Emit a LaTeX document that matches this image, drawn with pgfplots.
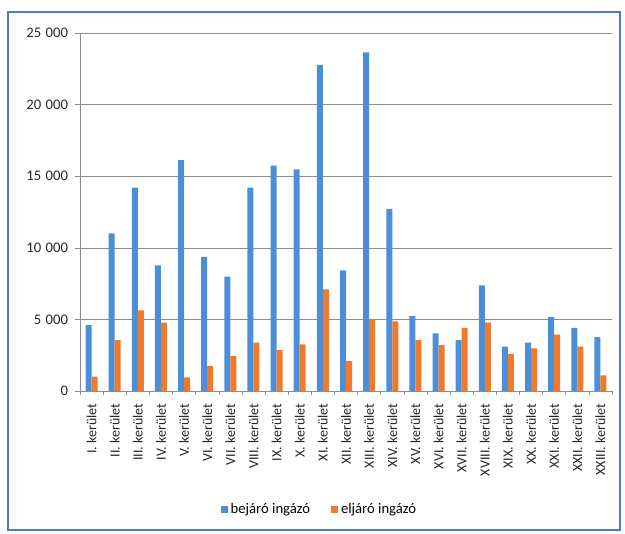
\documentclass[border=0pt]{standalone}
\usepackage{fontspec}
\setmainfont{Carlito}
\usepackage{pgfplots}
\pgfplotsset{compat=1.18}
\usepackage{pgfplotstable}

\definecolor{bejaro}{HTML}{4A8FD8}
\definecolor{eljaro}{HTML}{F07A2C}
\definecolor{gridgray}{HTML}{8C8C8C}
\definecolor{framec}{HTML}{4F79C8}

% kerület, bejáró ingázó, eljáró ingázó
\pgfplotstableread{
x bej elj
0 4600 1000
1 11000 3550
2 14200 5630
3 8770 4770
4 16120 950
5 9370 1740
6 7980 2440
7 14200 3370
8 15740 2860
9 15470 3260
10 22770 7090
11 8420 2090
12 23650 5000
13 12720 4860
14 5230 3560
15 4020 3210
16 3560 4400
17 7370 4770
18 3090 2600
19 3370 2980
20 5160 3930
21 4400 3090
22 3770 1090
}\ingazok

\begin{document}
\begin{tikzpicture}
\path[use as bounding box] (-60pt,-107.25pt) rectangle (408.75pt,293.25pt);
\draw[framec, line width=1.3pt] (-54pt,-104.25pt) rectangle (405pt,284.25pt);
\begin{axis}[
    at={(0,0)}, anchor=south west,
    scale only axis,
    width=399pt, height=268.5pt,
    ybar=0pt, bar width=4.5pt,
    xmin=-0.5, xmax=22.5,
    ymin=0, ymax=25000,
    xtick={0,...,22},
    xticklabels={I. kerület,II. kerület,III. kerület,IV. kerület,V. kerület,VI. kerület,VII. kerület,VIII. kerület,IX. kerület,X. kerület,XI. kerület,XII. kerület,XIII. kerület,XIV. kerület,XV. kerület,XVI. kerület,XVII. kerület,XVIII. kerület,XIX. kerület,XX. kerület,XXI. kerület,XXII. kerület,XXIII. kerület},
    minor xtick={-0.5,0.5,...,22.5},
    major x tick style={draw=none},
    minor tick length=3pt,
    ytick={0,5000,10000,15000,20000,25000},
    major tick length=3.5pt,
    tick align=outside,
    tick style={gridgray, thin},
    scaled y ticks=false,
    /pgf/number format/assume math mode=true,
    /pgf/number format/1000 sep={\hspace{0.3em}},
    ymajorgrids=true,
    grid style={gridgray, thin},
    axis x line*=bottom, axis y line*=left,
    axis line style={gridgray, thin, -},
    xticklabel shift=2.5pt,
    xticklabel style={rotate=90, anchor=east, font=\fontsize{10.5}{12}\selectfont, text=black!85},
    yticklabel style={xshift=-2pt, font=\fontsize{11}{13}\selectfont, text=black!85},
    legend style={at={(0.451,-0.332)}, anchor=center, draw=none, fill=none,
        font=\fontsize{11}{13}\selectfont, legend columns=2,
        /tikz/every even column/.append style={column sep=14pt}},
    legend image code/.code={\fill[#1] (0pt,-2.6pt) rectangle (5.2pt,2.6pt);},
]
\addplot[fill=bejaro, draw=none] table[x=x, y=bej] {\ingazok};
\addplot[fill=eljaro, draw=none] table[x=x, y=elj] {\ingazok};
\legend{bejáró ingázó, eljáró ingázó}
\end{axis}
\end{tikzpicture}
\end{document}
